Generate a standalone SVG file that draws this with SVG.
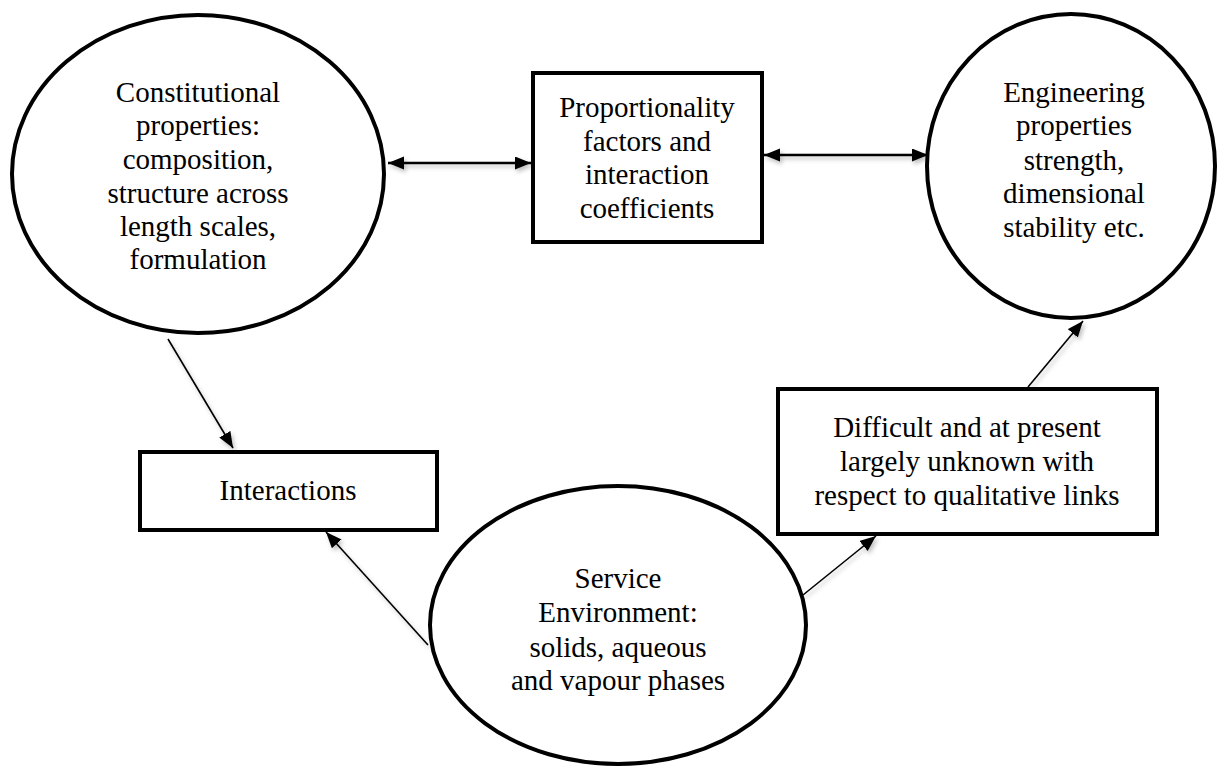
<svg xmlns="http://www.w3.org/2000/svg" width="1219" height="767" viewBox="0 0 1219 767">
<style>
  .node { fill: #ffffff; stroke: #000000; stroke-width: 4; }
  text { font-family: 'Liberation Serif', 'Times New Roman', 'DejaVu Serif', serif; font-size: 29px; fill: #000000; text-anchor: middle; }
  .conn { stroke: #000000; stroke-width: 1.6; fill: none; filter: url(#shadow); }
  .thick { stroke-width: 2.4; }
</style>
<defs>
  <marker id="arr" markerUnits="userSpaceOnUse" markerWidth="18" markerHeight="14" refX="16" refY="6.5" orient="auto-start-reverse">
    <path d="M0,0 L16,6.5 L0,13 z" fill="#000000"/>
  </marker>
  <filter id="shadow" filterUnits="userSpaceOnUse" x="0" y="0" width="1219" height="767">
    <feDropShadow dx="2" dy="3" stdDeviation="2" flood-color="#000000" flood-opacity="0.25"/>
  </filter>
</defs>
<rect x="0" y="0" width="1219" height="767" fill="#ffffff"/>

<g id="connectors">
  <line class="conn thick" x1="388" y1="163" x2="531" y2="163" marker-start="url(#arr)" marker-end="url(#arr)"/>
  <line class="conn thick" x1="764" y1="155" x2="928" y2="155" marker-start="url(#arr)" marker-end="url(#arr)"/>
  <line class="conn" x1="168" y1="339" x2="233" y2="448" marker-end="url(#arr)"/>
  <line class="conn" x1="428" y1="645" x2="326" y2="532" marker-end="url(#arr)"/>
  <line class="conn" x1="803" y1="595" x2="876" y2="536" marker-end="url(#arr)"/>
  <line class="conn" x1="1028" y1="387" x2="1083" y2="321" marker-end="url(#arr)"/>
</g>

<g id="constitutional">
  <ellipse class="node" cx="198" cy="174" rx="186" ry="159"/>
  <text x="198" y="102">Constitutional</text>
  <text x="198" y="135">properties:</text>
  <text x="198" y="169">composition,</text>
  <text x="198" y="203">structure across</text>
  <text x="198" y="236">length scales,</text>
  <text x="198" y="269">formulation</text>
</g>

<g id="proportionality">
  <rect class="node" x="533" y="73" width="229" height="169"/>
  <text x="647" y="117">Proportionality</text>
  <text x="647" y="151">factors and</text>
  <text x="647" y="184">interaction</text>
  <text x="647" y="218">coefficients</text>
</g>

<g id="engineering">
  <ellipse class="node" cx="1071" cy="166" rx="144" ry="152"/>
  <text x="1074" y="102">Engineering</text>
  <text x="1074" y="135">properties</text>
  <text x="1074" y="170">strength,</text>
  <text x="1074" y="203">dimensional</text>
  <text x="1074" y="237">stability etc.</text>
</g>

<g id="interactions">
  <rect class="node" x="140" y="452" width="297" height="78"/>
  <text x="288" y="500">Interactions</text>
</g>

<g id="difficult">
  <rect class="node" x="778" y="389" width="379" height="145"/>
  <text x="967" y="437">Difficult and at present</text>
  <text x="967" y="471">largely unknown with</text>
  <text x="967" y="505">respect to qualitative links</text>
</g>

<g id="service">
  <ellipse class="node" cx="618" cy="625" rx="188" ry="139"/>
  <text x="618" y="588">Service</text>
  <text x="618" y="622">Environment:</text>
  <text x="618" y="657">solids, aqueous</text>
  <text x="618" y="690">and vapour phases</text>
</g>
</svg>
